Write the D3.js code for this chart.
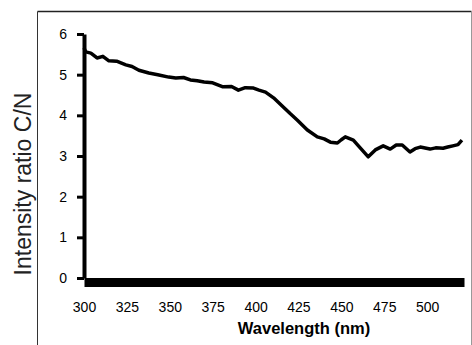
<!DOCTYPE html>
<html>
<head>
<meta charset="utf-8">
<script src="https://cdn.jsdelivr.net/npm/d3@7"></script>
<style>
  body { margin: 0; background: #fff; }
  text { font-family: "Liberation Sans", Arial, sans-serif; }
</style>
</head>
<body>
<div id="chart"></div>
<script>
// wavelength (nm) and C/N intensity ratio
const wavelength = [300, 301, 304, 307.6, 311, 314.5, 319, 324.4, 328, 332, 337.8, 343, 349.4, 353.5,
    358, 362, 366, 370, 375, 381, 386, 390, 394, 398.8, 402, 405.8, 410.5, 416.3, 420, 424.4,
    430.2, 436, 440, 443.6, 447.7, 450, 452.3, 457, 461, 465.7, 469.8, 474.4, 478.5, 482,
    485.5, 490, 493, 496, 501.7, 505, 509.3, 512, 515, 518, 520.3];
const ratio = [5.66, 5.56, 5.53, 5.41, 5.45, 5.34, 5.33, 5.24, 5.2, 5.11, 5.04, 5.0, 4.94, 4.92,
    4.93, 4.87, 4.85, 4.82, 4.8, 4.7, 4.71, 4.62, 4.68, 4.67, 4.62, 4.57, 4.43, 4.2, 4.05, 3.88,
    3.64, 3.47, 3.42, 3.34, 3.32, 3.4, 3.47, 3.39, 3.2, 2.98, 3.15, 3.25, 3.17, 3.27,
    3.27, 3.1, 3.18, 3.22, 3.17, 3.2, 3.19, 3.22, 3.25, 3.28, 3.39];
const xTicks = [300, 325, 350, 375, 400, 425, 450, 475, 500];
const yTicks = [0, 1, 2, 3, 4, 5, 6];

const W = 472, H = 345;
const margin = { top: 34, right: 8, bottom: 67, left: 84 };
const width = W - margin.left - margin.right,
    height = H - margin.top - margin.bottom;

const svg = d3.select("#chart").append("svg")
    .attr("width", W)
    .attr("height", H);

// outer frame
svg.append("line").attr("x1", 37.5).attr("x2", 471.5).attr("y1", 11.5).attr("y2", 11.5)
    .attr("stroke", "#222").attr("stroke-width", 1.5);
svg.append("line").attr("x1", 37.5).attr("x2", 37.5).attr("y1", 11.5).attr("y2", H)
    .attr("stroke", "#333");
svg.append("line").attr("x1", 471.5).attr("x2", 471.5).attr("y1", 11.5).attr("y2", H)
    .attr("stroke", "#999");

const g = svg.append("g")
    .attr("transform", `translate(${margin.left},${margin.top})`);

const x = d3.scaleLinear().domain([300, 521.5]).range([0, width]);
const y = d3.scaleLinear().domain([0, 6]).range([height, 0]);

// y axis
const yAxis = g.append("g")
    .call(d3.axisLeft(y).tickValues(yTicks).tickFormat(d3.format("d"))
        .tickSize(7).tickSizeOuter(0).tickPadding(10));
yAxis.select(".domain").attr("stroke-width", 4);
yAxis.selectAll(".tick line").attr("stroke-width", 3);
yAxis.selectAll("text").attr("font-size", 14).attr("fill", "#000");

// x axis: heavy bar below zero
const xAxis = g.append("g")
    .attr("transform", `translate(0,${height + 4})`)
    .call(d3.axisBottom(x).tickValues(xTicks).tickFormat(d3.format("d"))
        .tickSize(0).tickSizeOuter(0).tickPadding(20));
xAxis.select(".domain").attr("stroke-width", 9);
xAxis.selectAll("text").attr("font-size", 14).attr("fill", "#000");

// data line
const pts = wavelength.map((w, i) => ({ w: w, r: ratio[i] }));
g.append("path")
    .datum(pts)
    .attr("fill", "none")
    .attr("stroke", "#000")
    .attr("stroke-width", 3.5)
    .attr("stroke-linejoin", "round")
    .attr("d", d3.line().x(d => x(d.w)).y(d => y(d.r)));

// axis titles
svg.append("text")
    .attr("x", 304).attr("y", 334)
    .attr("text-anchor", "middle")
    .attr("font-size", 16.5).attr("font-weight", "bold")
    .text("Wavelength (nm)");

svg.append("text")
    .attr("transform", "translate(31,184) rotate(-90)")
    .attr("text-anchor", "middle")
    .attr("font-size", 23).attr("fill", "#222")
    .text("Intensity ratio C/N");
</script>
</body>
</html>
